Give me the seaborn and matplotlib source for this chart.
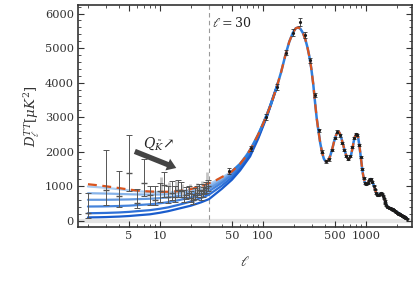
import numpy as np
import matplotlib
matplotlib.use("Agg")
import matplotlib.pyplot as plt
import matplotlib.ticker as mticker
import seaborn as sns

# LCDM best fit curve
ell_th = [2, 2.5, 3, 4, 5, 6, 7, 8, 10, 12, 15, 20, 25, 30, 35, 40, 45, 50, 60, 70, 80, 90,
          100, 110, 120, 135, 150, 165, 180, 195, 208, 220, 232, 245, 258, 270, 282, 295,
          308, 320, 332, 346, 360, 375, 390, 405, 420, 435, 450, 470, 490, 510, 530, 545,
          560, 578, 597, 616, 636, 656, 676, 696, 716, 738, 760, 783, 805, 822, 840, 858,
          876, 895, 915, 935, 955, 975, 1000, 1030, 1060, 1090, 1115, 1140, 1170, 1200,
          1230, 1260, 1290, 1320, 1350, 1385, 1420, 1455, 1490, 1529, 1570, 1610, 1650,
          1720, 1800, 1900, 2000, 2136, 2300, 2481]
D_th = [1060, 1030, 1000, 950, 905, 878, 860, 850, 840, 842, 860, 920, 1000, 1090, 1175,
        1270, 1350, 1430, 1650, 1900, 2200, 2500, 2800, 3100, 3380, 3840, 4300, 4790, 5180,
        5440, 5570, 5600, 5550, 5430, 5250, 5030, 4760, 4400, 3950, 3450, 2990, 2600, 2250,
        1980, 1800, 1720, 1720, 1780, 1880, 2070, 2290, 2460, 2570, 2580, 2520, 2390, 2230,
        2080, 1940, 1830, 1790, 1810, 1900, 2080, 2290, 2440, 2510, 2500, 2410, 2240, 2030,
        1800, 1560, 1360, 1210, 1110, 1060, 1075, 1140, 1200, 1210, 1170, 1090, 990, 890,
        800, 750, 745, 765, 795, 800, 760, 680, 570, 480, 420, 395, 370, 350, 300, 255, 200,
        145, 90]

# low-ell curves for increasing Q_K (light -> dark)
ell_low = [2, 2.5, 3, 4, 5, 6, 8, 10, 12, 15, 20, 25, 30, 40, 50, 60, 75, 90, 110, 140]
D_low = [
    [995, 975, 955, 915, 880, 858, 835, 826, 825, 850, 900, 975, 1060, 1250, 1430, 1650,
     2058, 2500, 3100, 3990],
    [800, 795, 790, 780, 770, 765, 760, 762, 770, 800, 850, 920, 1000, 1200, 1400, 1630,
     2040, 2490, 3095, 3990],
    [610, 610, 610, 615, 620, 628, 640, 658, 680, 720, 780, 855, 940, 1150, 1370, 1605,
     2010, 2470, 3085, 3985],
    [415, 417, 420, 430, 440, 455, 480, 508, 540, 595, 680, 765, 860, 1100, 1330, 1575,
     1980, 2450, 3075, 3985],
    [220, 225, 230, 243, 260, 280, 310, 350, 390, 460, 560, 660, 760, 1020, 1260, 1520,
     1930, 2420, 3060, 3980],
    [100, 104, 110, 124, 140, 160, 190, 235, 280, 350, 440, 535, 630, 930, 1190, 1460,
     1864, 2380, 3040, 3975],
]
low_colors = ["#aacbf0", "#86b3ea", "#6399e0", "#4583db", "#2d6fd6", "#1a5ccc"]

# low-ell data points
ell_lo = list(range(2, 30))
D_lo = [225, 880, 705, 1380, 530, 1110, 750, 600, 860, 1030, 700, 800, 700, 900, 870, 680,
        760, 800, 660, 600, 760, 820, 880, 700, 820, 900, 950, 1000]
lo_lo = [95, 465, 415, 850, 370, 725, 465, 460, 560, 700, 520, 600, 540, 700, 690, 540,
         620, 660, 540, 500, 640, 690, 740, 600, 700, 770, 820, 870]
hi_lo = [800, 2060, 1430, 2470, 920, 1790, 1015, 995, 1110, 1400, 1000, 1150, 1000, 1180,
         1120, 900, 980, 1010, 850, 780, 950, 1000, 1060, 870, 990, 1070, 1120, 1180]

# second low-ell data set (light grey bars)
ell_gr = [10, 12, 14, 16, 19, 22, 25, 28]
gr_lo = [850, 760, 800, 760, 780, 820, 880, 1120]
gr_hi = [1280, 1120, 1150, 1080, 1060, 1100, 1150, 1400]

# binned high-ell data (bins of 30)
ell_bin = list(range(47, 2478, 30))
D_bin = [1450, 2100, 3000, 3880, 4870, 5450, 5750, 5380, 4650, 3650, 2620, 2000, 1720, 1780,
         2050, 2400, 2580, 2480, 2250, 2050, 1870, 1790, 1880, 2150, 2400, 2520, 2480, 2200,
         1850, 1500, 1230, 1100, 1060, 1090, 1170, 1220, 1210, 1130, 1020, 910, 810, 760,
         740, 760, 790, 800, 790, 730, 650, 580, 510, 450, 410, 390, 380, 370, 360, 350, 340,
         335, 315, 300, 280, 265, 250, 235, 222, 212, 205, 195, 185, 172, 160, 150, 140, 130,
         120, 110, 100, 90, 75, 60]
err_bin = [90, 80, 80, 80, 80, 90, 120, 80, 70, 60, 50, 40, 40, 40, 40, 40, 40, 40, 35, 35,
           30, 30, 30, 30, 30, 30, 30, 30, 30, 30, 30, 30, 25, 25, 25, 25, 25, 25, 25, 25, 25,
           25, 25, 25, 25, 25, 25, 25, 20, 20, 20, 20, 20, 20, 20, 20, 20, 20, 20, 20, 20, 20,
           20, 20, 20, 20, 20, 20, 20, 20, 20, 20, 20, 20, 20, 20, 20, 20, 20, 20, 20, 20]

x_major = [5, 10, 50, 100, 500, 1000]
x_minor = [2, 3, 4, 6, 7, 8, 9, 20, 30, 40, 60, 70, 80, 90, 200, 300, 400, 600, 700, 800,
           900, 2000]

sns.set_theme(style="ticks")
plt.rcParams['font.family'] = ['DejaVu Serif']
plt.rcParams['mathtext.fontset'] = 'dejavuserif'

fig = plt.figure(figsize=(4.17, 2.86), dpi=100)
ax = fig.add_axes([0.187, 0.206, 0.801, 0.777])

ax.axhline(0, color='#e4e4e4', lw=3, zorder=0)
ax.axvline(30, color='#9a9a9a', lw=0.8, ls=(0, (4, 3)), zorder=1)

for vals, col in zip(D_low, low_colors):
    sns.lineplot(x=ell_low, y=vals, ax=ax, color=col, lw=1.6, estimator=None, sort=False, zorder=2)
sns.lineplot(x=ell_th[17:], y=D_th[17:], ax=ax, color='#2f7fdd', lw=1.8, estimator=None,
             sort=False, zorder=3)
sns.lineplot(x=ell_th, y=D_th, ax=ax, color='#d9541e', lw=1.6, estimator=None, sort=False,
             zorder=4, linestyle=(0, (4, 2.5)))

ell_gr_off = [l * 1.03 for l in ell_gr]
ax.vlines(ell_gr_off, gr_lo, gr_hi, color='#c4c4c4', lw=2.0, zorder=3)

D_lo_a = np.array(D_lo)
ax.errorbar(ell_lo, D_lo, yerr=[D_lo_a - np.array(lo_lo), np.array(hi_lo) - D_lo_a],
            fmt='_', ms=4, color='#555555', ecolor='#555555', elinewidth=0.7, capsize=2,
            capthick=0.7, zorder=5)
ax.errorbar(ell_bin, D_bin, yerr=err_bin, fmt='.', ms=2.5, color='#1a1a1a',
            ecolor='#333333', elinewidth=0.6, capsize=1.5, capthick=0.6, zorder=6)

ax.set_xscale('log')
ax.set_xlim(1.6, 2800)
ax.set_ylim(-180, 6250)
ax.xaxis.set_major_locator(mticker.FixedLocator(x_major))
ax.xaxis.set_major_formatter(mticker.FixedFormatter([str(v) for v in x_major]))
ax.xaxis.set_minor_locator(mticker.FixedLocator(x_minor))
ax.xaxis.set_minor_formatter(mticker.NullFormatter())
ax.yaxis.set_major_locator(mticker.MultipleLocator(1000))
ax.yaxis.set_minor_locator(mticker.MultipleLocator(200))

ax.tick_params(which='both', direction='in', top=True, right=True, colors='#333333',
               labelsize=8.2, labelcolor='#333333', pad=3)
ax.tick_params(which='major', length=4, width=0.8)
ax.tick_params(which='minor', length=2, width=0.6)
for s in ax.spines.values():
    s.set_color('#333333')
    s.set_linewidth(1.2)

ax.set_xlabel(r'$\ell$', fontsize=10, color='#333333', labelpad=10)
ax.set_ylabel(r'$D_\ell^{TT}[\mu K^2]$', fontsize=9.5, color='#333333', labelpad=2)

ax.text(32, 5720, r'$\ell = 30$', fontsize=9, color='#222222', va='center', ha='left')
ax.text(6.8, 2250, r'$Q_{\tilde{K}}\!\nearrow$', fontsize=10, color='#222222',
        va='center', ha='left')
ax.annotate('', xy=(14.4, 1530), xytext=(5.7, 2010),
            arrowprops=dict(arrowstyle='simple,head_length=0.55,head_width=0.75,tail_width=0.32',
                            fc='#444444', ec='none', mutation_scale=12, shrinkA=0, shrinkB=0),
            zorder=7)

fig.savefig('out.png', dpi=100)
